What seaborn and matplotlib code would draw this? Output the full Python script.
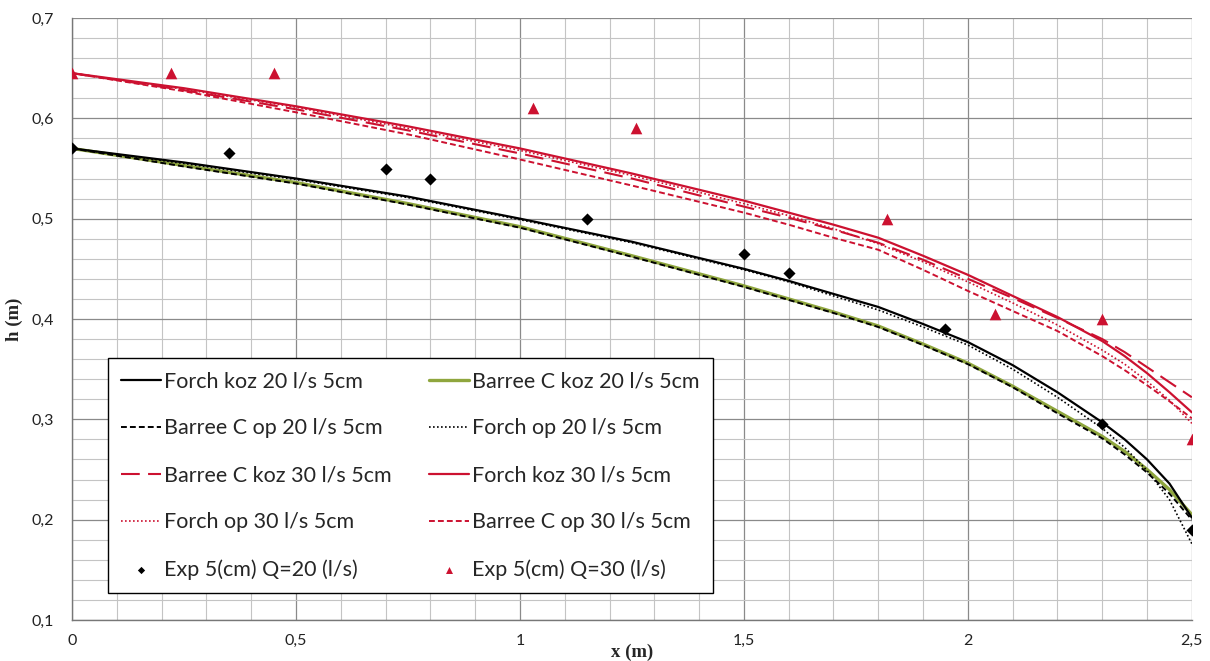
import numpy as np
import pandas as pd
import seaborn as sns
import matplotlib.pyplot as plt
from matplotlib.ticker import MultipleLocator, FuncFormatter

# values
x_curve = [0, 0.25, 0.5, 0.75, 1.0, 1.25, 1.5, 1.6, 1.7, 1.8, 1.9, 2.0, 2.1, 2.2, 2.3, 2.35, 2.4, 2.45, 2.5]

forch_koz_20 = [0.570, 0.556, 0.540, 0.522, 0.500, 0.477, 0.450, 0.438, 0.425, 0.412, 0.395, 0.377, 0.354, 0.327, 0.297, 0.280, 0.260, 0.236, 0.202]
barree_koz_20 = [0.570, 0.553, 0.536, 0.515, 0.492, 0.463, 0.433, 0.420, 0.407, 0.393, 0.375, 0.356, 0.333, 0.308, 0.283, 0.268, 0.250, 0.230, 0.205]
barree_op_20 = [0.570, 0.552, 0.535, 0.514, 0.491, 0.462, 0.432, 0.419, 0.406, 0.392, 0.374, 0.355, 0.332, 0.306, 0.281, 0.265, 0.247, 0.226, 0.200]
forch_op_20 = [0.570, 0.555, 0.539, 0.521, 0.499, 0.476, 0.449, 0.437, 0.423, 0.409, 0.392, 0.374, 0.350, 0.322, 0.291, 0.272, 0.249, 0.220, 0.176]

forch_koz_30 = [0.645, 0.630, 0.612, 0.592, 0.570, 0.545, 0.518, 0.506, 0.494, 0.481, 0.463, 0.444, 0.423, 0.402, 0.378, 0.363, 0.346, 0.327, 0.307]
barree_koz_30 = [0.645, 0.628, 0.609, 0.588, 0.565, 0.540, 0.512, 0.501, 0.489, 0.476, 0.459, 0.440, 0.421, 0.401, 0.380, 0.367, 0.352, 0.337, 0.322]
forch_op_30 = [0.645, 0.629, 0.611, 0.590, 0.568, 0.543, 0.515, 0.503, 0.490, 0.475, 0.457, 0.437, 0.416, 0.394, 0.369, 0.355, 0.338, 0.319, 0.296]
barree_op_30 = [0.645, 0.627, 0.606, 0.584, 0.559, 0.533, 0.506, 0.494, 0.481, 0.469, 0.449, 0.428, 0.408, 0.388, 0.363, 0.349, 0.334, 0.318, 0.301]

exp20_x = [0, 0.35, 0.70, 0.80, 1.15, 1.50, 1.60, 1.95, 2.30, 2.50]
exp20_h = [0.570, 0.565, 0.549, 0.540, 0.500, 0.465, 0.446, 0.390, 0.295, 0.190]
exp30_x = [0, 0.22, 0.45, 1.03, 1.26, 1.82, 2.06, 2.30, 2.50]
exp30_h = [0.645, 0.645, 0.645, 0.610, 0.590, 0.500, 0.405, 0.400, 0.280]

RED = '#CC1130'
OLIVE = '#8FA63E'

sns.set_style("white")
plt.rcParams['font.family'] = ['Lato', 'DejaVu Sans']

fig = plt.figure(figsize=(12.1, 6.61), dpi=100)
ax = fig.add_axes([0.0595, 0.062, 0.9255, 0.9108])

# label -> (values, color, linewidth, dashes)
curves = {
    'Barree C koz 20 l/s 5cm': (barree_koz_20, OLIVE, 2.4, None),
    'Barree C op 20 l/s 5cm': (barree_op_20, 'black', 1.4, (3, 1.6)),
    'Forch koz 20 l/s 5cm': (forch_koz_20, 'black', 1.6, None),
    'Forch op 20 l/s 5cm': (forch_op_20, 'black', 1.2, (1, 1.4)),
    'Barree C op 30 l/s 5cm': (barree_op_30, RED, 1.4, (3, 1.6)),
    'Forch op 30 l/s 5cm': (forch_op_30, RED, 1.2, (1, 1.4)),
    'Barree C koz 30 l/s 5cm': (barree_koz_30, RED, 1.5, (9, 4)),
    'Forch koz 30 l/s 5cm': (forch_koz_30, RED, 1.6, None),
}

handles = {}
for name, (vals, col, lw, dash) in curves.items():
    df = pd.DataFrame({'x': x_curve, 'h': vals})
    sns.lineplot(data=df, x='x', y='h', ax=ax, color=col, linewidth=lw, label=name)
    line = ax.lines[-1]
    if dash is not None:
        line.set_dashes(dash)
    handles[name] = line

sns.scatterplot(x=exp20_x, y=exp20_h, ax=ax, marker='D', s=38, color='black',
                edgecolor='black', linewidth=0, label='Exp 5(cm) Q=20 (l/s)', zorder=5)
sns.scatterplot(x=exp30_x, y=exp30_h, ax=ax, marker='^', s=70, color=RED,
                edgecolor=RED, linewidth=0, label='Exp 5(cm) Q=30 (l/s)', zorder=5)
h_all, l_all = ax.get_legend_handles_labels()
for hh, ll in zip(h_all, l_all):
    if ll.startswith('Exp'):
        handles[ll] = hh

ax.set_xlim(0, 2.5)
ax.set_ylim(0.1, 0.7)
ax.xaxis.set_major_locator(MultipleLocator(0.5))
ax.xaxis.set_minor_locator(MultipleLocator(0.1))
ax.yaxis.set_major_locator(MultipleLocator(0.1))
ax.yaxis.set_minor_locator(MultipleLocator(0.02))
fmt = FuncFormatter(lambda v, p: f"{v:.1f}".rstrip('0').rstrip('.').replace('.', ','))
ax.xaxis.set_major_formatter(fmt)
ax.yaxis.set_major_formatter(fmt)

ax.grid(which='major', color='#8a8a8a', linewidth=0.9)
ax.grid(which='minor', color='#c4c4c4', linewidth=0.8)
ax.set_axisbelow(True)
for s in ['top', 'right']:
    ax.spines[s].set_visible(False)
for s in ['left', 'bottom']:
    ax.spines[s].set_color('#777777')
    ax.spines[s].set_linewidth(1.0)
ax.tick_params(which='major', direction='out', length=5, color='#777777',
               labelsize=11.5, labelcolor='#222222', pad=8)
ax.tick_params(which='minor', length=0)
ax.tick_params(axis='x', pad=5)

ax.set_xlabel('x (m)', family='Liberation Serif', fontweight='bold', fontsize=13.5, va='center')
ax.xaxis.set_label_coords(0.5, -0.054)
ax.set_ylabel('h (m)', family='Liberation Serif', fontweight='bold', fontsize=13.5, labelpad=6)

order = ['Forch koz 20 l/s 5cm', 'Barree C op 20 l/s 5cm', 'Barree C koz 30 l/s 5cm',
         'Forch op 30 l/s 5cm', 'Exp 5(cm) Q=20 (l/s)',
         'Barree C koz 20 l/s 5cm', 'Forch op 20 l/s 5cm', 'Forch koz 30 l/s 5cm',
         'Barree C op 30 l/s 5cm', 'Exp 5(cm) Q=30 (l/s)']
leg = ax.legend([handles[k] for k in order], order, ncol=2, loc='lower left',
                bbox_to_anchor=(0.032, 0.045), borderaxespad=0, fontsize=15.5,
                frameon=True, fancybox=False, edgecolor='black', framealpha=1,
                handlelength=1.86, handletextpad=0.15, labelspacing=1.25,
                columnspacing=1.7, borderpad=0.62, markerscale=0.6)
leg.get_frame().set_linewidth(1.0)

fig.savefig('out.png', dpi=100)
